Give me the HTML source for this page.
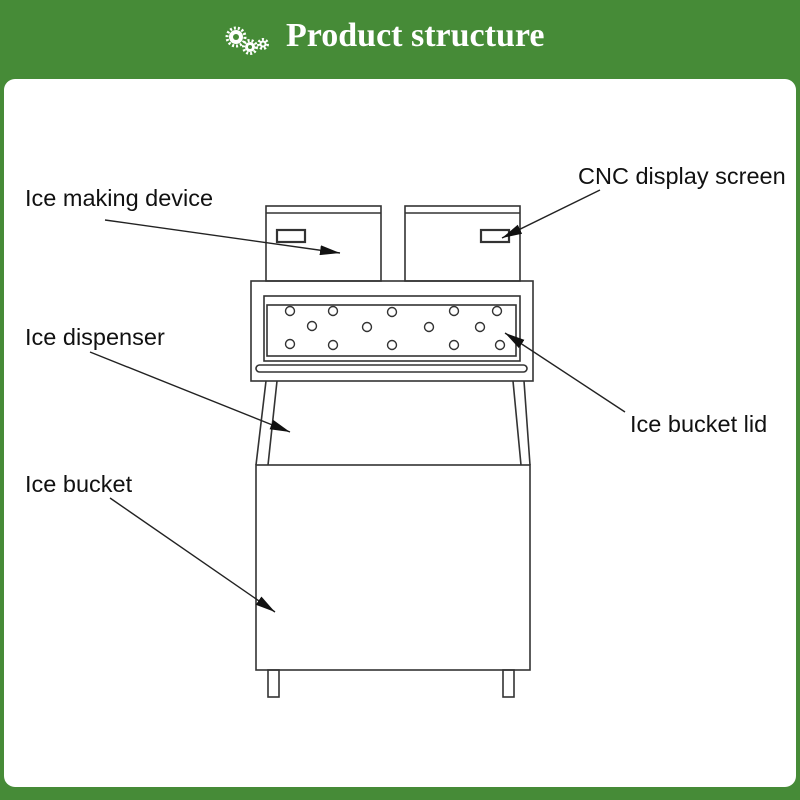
<!DOCTYPE html>
<html><head><style>
body{margin:0;width:800px;height:800px;background:#468b37;overflow:hidden;position:relative;font-family:"Liberation Sans",sans-serif}
.card{position:absolute;left:4px;top:79px;width:792px;height:708px;background:#fff;border-radius:11px}
.title{position:absolute;left:286px;top:17px;font:bold 34px "Liberation Serif",serif;color:#fff}
svg{position:absolute;left:0;top:0}
</style></head><body>
<div class="card"></div>
<div class="title">Product structure</div>
<svg width="800" height="800" viewBox="0 0 800 800">
<g fill="#fff">
<circle cx="236" cy="37" r="7"/><circle cx="250" cy="47" r="5"/><circle cx="263" cy="44" r="3.5"/>
</g>
<g fill="#468b37"><circle cx="236" cy="37" r="3"/><circle cx="250" cy="47" r="2"/><circle cx="263" cy="44" r="1.5"/></g>
<g fill="none" stroke="#fff" stroke-width="3" stroke-dasharray="2 2"><circle cx="236" cy="37" r="9"/><circle cx="250" cy="47" r="6.5"/><circle cx="263" cy="44" r="4.5"/></g>
<g fill="none" stroke="#333" stroke-width="1.6">
<rect x="266" y="206" width="115" height="75"/><line x1="266" y1="213" x2="381" y2="213"/>
<rect x="277" y="230" width="28" height="12" stroke-width="2.2"/>
<rect x="405" y="206" width="115" height="75"/><line x1="405" y1="213" x2="520" y2="213"/>
<rect x="481" y="230" width="28" height="12" stroke-width="2.2"/>
<rect x="251" y="281" width="282" height="100"/>
<rect x="264" y="296" width="256" height="65"/>
<rect x="267" y="305" width="249" height="51"/>
<rect x="256" y="365" width="271" height="7" rx="3.5"/>
<path d="M266 381 L256 465 M277 381 L268 465 M513 381 L521 465 M524 381 L530 465"/>
<rect x="256" y="465" width="274" height="205"/>
<rect x="268" y="670" width="11" height="27"/><rect x="503" y="670" width="11" height="27"/>
<g stroke-width="1.4">
<circle cx="290" cy="311" r="4.5"/><circle cx="333" cy="311" r="4.5"/><circle cx="392" cy="312" r="4.5"/><circle cx="454" cy="311" r="4.5"/><circle cx="497" cy="311" r="4.5"/>
<circle cx="312" cy="326" r="4.5"/><circle cx="367" cy="327" r="4.5"/><circle cx="429" cy="327" r="4.5"/><circle cx="480" cy="327" r="4.5"/>
<circle cx="290" cy="344" r="4.5"/><circle cx="333" cy="345" r="4.5"/><circle cx="392" cy="345" r="4.5"/><circle cx="454" cy="345" r="4.5"/><circle cx="500" cy="345" r="4.5"/>
</g>
</g>
<defs><marker id="b" markerWidth="20" markerHeight="10" refX="20" refY="5" orient="auto" markerUnits="userSpaceOnUse"><path d="M0 0L20 5L0 10Z" fill="#111"/></marker></defs>
<g stroke="#222" stroke-width="1.4" fill="none" marker-end="url(#b)">
<line x1="105" y1="220" x2="340" y2="253"/>
<line x1="600" y1="190" x2="502" y2="238"/>
<line x1="90" y1="352" x2="290" y2="432"/>
<line x1="110" y1="498" x2="275" y2="612"/>
<line x1="625" y1="412" x2="505" y2="333"/>
</g>
<g font-size="23.5" fill="#111" font-family="Liberation Sans,sans-serif">
<text x="25" y="206">Ice making device</text>
<text x="578" y="184">CNC display screen</text>
<text x="25" y="345">Ice dispenser</text>
<text x="25" y="492">Ice bucket</text>
<text x="630" y="432">Ice bucket lid</text>
</g>
</svg>
</body></html>
